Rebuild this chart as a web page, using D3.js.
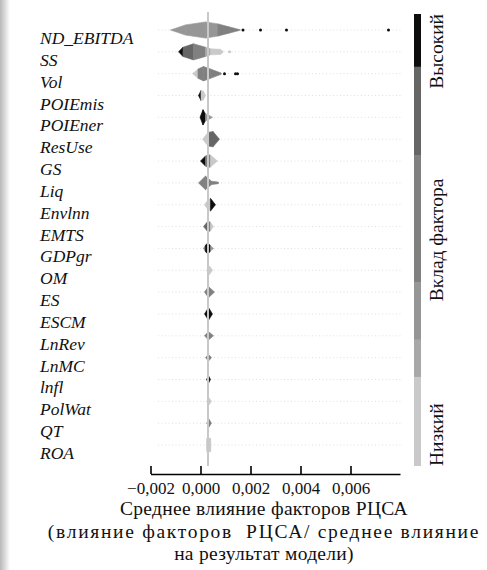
<!DOCTYPE html>
<html>
<head>
<meta charset="utf-8">
<script src="https://cdn.jsdelivr.net/npm/d3@7"></script>
<style>
  body { margin: 0; background: #fff; }
  text { font-family: "Liberation Serif", "DejaVu Serif", serif; }
</style>
</head>
<body>
<svg id="chart" width="487" height="570"></svg>
<script>
'use strict';

/**
 * Data
 */
const features = ['ND_EBITDA', 'SS', 'Vol', 'POIEmis', 'POIEner', 'ResUse', 'GS', 'Liq', 'Envlnn', 'EMTS',
  'GDPgr', 'OM', 'ES', 'ESCM', 'LnRev', 'LnMC', 'lnfl', 'PolWat', 'QT', 'ROA'];

// violin knots per feature: [shap value, relative density, feature value level 0..1]
// the level of a knot colours the slice to its right
const violins = [
  [[-0.0012, 0, .3], [-0.0006, .6, .3], [0.0002, .95, .3], [0.0007, .72, .5], [0.0011, .4, .5], [0.0015, .1, .5], [0.0016, 0, .5]],
  [[-0.00088, 0, 1], [-0.0007, .55, .8], [-0.00028, .95, .6], [0.0002, .55, .25], [0.0004, .35, .15], [0.0008, .3, .15], [0.00092, 0, .15]],
  [[-0.00032, 0, .1], [-0.0001, .55, .45], [0.00012, .85, .45], [0.0004, .55, .5], [0.0008, .1, .5], [0.00084, 0, .5]],
  [[-0.00008, 0, 1], [0.00002, .6, .15], [0.00012, .5, .15], [0.0002, 0, .15]],
  [[-0.00002, 0, 1], [0.0001, .9, 1], [0.0002, .4, .3], [0.0003, .3, .3], [0.00048, 0, .3]],
  [[0.00008, 0, .15], [0.0003, .8, .8], [0.0005, .9, .8], [0.00076, 0, .8]],
  [[0, 0, 1], [0.0002, .6, .55], [0.0003, .75, .55], [0.0004, .7, .15], [0.00068, 0, .15]],
  [[-0.00008, 0, .5], [0.0002, .8, .5], [0.00044, .2, .6], [0.0007, .1, .6], [0.00072, 0, .6]],
  [[0.00016, 0, .15], [0.0003, .6, .15], [0.0004, .75, 1], [0.0006, 0, 1]],
  [[0.00012, 0, .8], [0.0003, .65, .5], [0.0004, .5, .15], [0.00052, 0, .15]],
  [[0.00012, 0, .6], [0.0002, .4, 1], [0.0003, .65, 1], [0.0004, .3, .3], [0.00052, 0, .3]],
  [[0.00024, 0, .1], [0.00036, .5, .1], [0.00048, 0, .1]],
  [[0.00016, 0, .5], [0.00032, .65, .5], [0.00056, 0, .5]],
  [[0.00016, 0, .95], [0.00032, .75, .95], [0.00048, 0, .95]],
  [[0.00016, 0, .5], [0.00032, .5, .5], [0.00052, 0, .5]],
  [[0.0002, 0, .55], [0.00032, .4, .55], [0.00044, 0, .55]],
  [[0.00024, 0, 1], [0.00032, .45, 1], [0.0004, 0, 1]],
  [[0.00024, 0, .1], [0.00034, .4, .1], [0.00044, 0, .1]],
  [[0.00024, 0, .5], [0.00034, .45, .5], [0.00044, 0, .5]],
  [[0.00024, 0, .15], [0.00026, .8, .15], [0.0004, .8, .15], [0.00042, 0, .15]]
];

// single points outside the violins: [feature, shap value, level]
const outliers = [
  ['ND_EBITDA', 0.0017, 1], ['ND_EBITDA', 0.0024, 1], ['ND_EBITDA', 0.00344, 1], ['ND_EBITDA', 0.00752, 1],
  ['SS', 0.00116, .15],
  ['Vol', 0.00096, 1], ['Vol', 0.0014, 1], ['Vol', 0.00148, 1]
];

const xTicks = [-0.002, 0, 0.002, 0.004, 0.006];
const baseValue = 0.0003;

// step colour bar: upper bounds of each grey band (0 = low, 1 = high)
const levelBreaks = [0.197, 0.279, 0.407, 0.688, 0.883];
const levelGreys = ['#c9c9c9', '#a8a8a8', '#969696', '#808080', '#666666', '#0d0d0d'];

const xTitle = ['Среднее влияние факторов РЦСА', '(влияние факторов  РЦСА/ среднее влияние', 'на результат модели)'];

/**
 * Layout
 */
const MAX_HALF = 8.5;
const svg = d3.select('#chart');

const x = d3.scaleLinear().domain([-0.002, 0.00798]).range([150.5, 400]);
const y = d3.scalePoint().domain(features).range([30, 445]);
const grey = d3.scaleThreshold().domain(levelBreaks).range(levelGreys);
const locale = d3.formatLocale({decimal: ',', thousands: ' ', grouping: [3], currency: ['', ''], minus: '\u2212'});

// faded left edge of the scanned page
const grad = svg.append('defs').append('linearGradient').attr('id', 'edge');
grad.append('stop').attr('offset', '0%').attr('stop-color', '#b8b8b8');
grad.append('stop').attr('offset', '100%').attr('stop-color', '#ffffff');
svg.append('rect').attr('x', 0).attr('y', 0).attr('width', 10).attr('height', 570).attr('fill', 'url(#edge)');

// dotted row guides
svg.append('g').selectAll('line').data(features).join('line')
  .attr('x1', 158).attr('x2', 402)
  .attr('y1', d => y(d)).attr('y2', d => y(d))
  .attr('stroke', '#e0e0e0').attr('stroke-width', 1).attr('stroke-dasharray', '1,2.5');

// violins as coloured slices
const slices = [];
violins.forEach((knots, i) => {
  for(let k = 0; k < knots.length - 1; k++) {
    slices.push({feature: features[i], a: knots[k], b: knots[k + 1]});
  }
});

svg.append('g').selectAll('path').data(slices).join('path')
  .attr('d', s => {
    const cy = y(s.feature);
    const x0 = x(s.a[0]), x1 = x(s.b[0]);
    const h0 = s.a[1] * MAX_HALF, h1 = s.b[1] * MAX_HALF;
    return `M${x0},${cy - h0}L${x1},${cy - h1}L${x1},${cy + h1}L${x0},${cy + h0}Z`;
  })
  .attr('fill', s => grey(s.a[2]))
  .attr('stroke', s => grey(s.a[2]))
  .attr('stroke-width', 0.6)
  .attr('stroke-linejoin', 'round');

svg.append('g').selectAll('circle').data(outliers).join('circle')
  .attr('cx', d => x(d[1]))
  .attr('cy', d => y(d[0]))
  .attr('r', 1.5)
  .attr('fill', d => grey(d[2]));

// base line
svg.append('line')
  .attr('x1', x(baseValue)).attr('x2', x(baseValue))
  .attr('y1', 12).attr('y2', 466)
  .attr('stroke', '#c8c8c8').attr('stroke-width', 2);

// feature labels
svg.append('g').selectAll('text').data(features).join('text')
  .attr('x', 40)
  .attr('y', d => y(d) + 14)
  .attr('font-family', '"Liberation Serif", serif')
  .attr('font-size', 17.5)
  .attr('font-style', 'italic')
  .attr('fill', '#111')
  .text(d => d);

// x axis, ticks pointing up
const axis = svg.append('g')
  .attr('transform', 'translate(0,474)')
  .call(d3.axisBottom(x).tickValues(xTicks).tickFormat(locale.format('.3f'))
    .tickSize(-8).tickSizeOuter(0).tickPadding(8));
axis.attr('font-family', '"Liberation Serif", serif');
axis.select('.domain').attr('stroke', '#000').attr('stroke-width', 1.6);
axis.selectAll('.tick line').attr('stroke', '#000').attr('stroke-width', 1.6);
axis.selectAll('.tick text')
  .attr('font-size', 17)
  .attr('fill', '#111');

const titleSpacing = [0.3, 1.7, 0.3];
svg.append('g').selectAll('text').data(xTitle).join('text')
  .attr('x', 264)
  .attr('y', (d, i) => 515 + i * 22.5)
  .attr('text-anchor', 'middle')
  .attr('font-family', '"Liberation Serif", serif')
  .attr('font-size', 19.5)
  .attr('letter-spacing', (d, i) => titleSpacing[i])
  .attr('fill', '#111')
  .style('white-space', 'pre')
  .text(d => d);

// colour bar
const barY = d3.scaleLinear().domain([0, 1]).range([466, 14]);
const bands = levelGreys.map((c, i) => ({
  lo: i === 0 ? 0 : levelBreaks[i - 1],
  hi: i === levelBreaks.length ? 1 : levelBreaks[i],
  color: c
}));
svg.append('g').selectAll('rect').data(bands).join('rect')
  .attr('x', 414).attr('width', 7)
  .attr('y', d => barY(d.hi))
  .attr('height', d => barY(d.lo) - barY(d.hi))
  .attr('fill', d => d.color);

const barLabels = [
  {text: 'Высокий', pos: 1, anchor: 'end'},
  {text: 'Вклад фактора', pos: 0.5, anchor: 'middle'},
  {text: 'Низкий', pos: 0, anchor: 'start'}
];
svg.append('g').selectAll('text').data(barLabels).join('text')
  .attr('transform', d => `translate(443,${barY(d.pos)}) rotate(-90)`)
  .attr('text-anchor', d => d.anchor)
  .attr('font-family', '"Liberation Serif", serif')
  .attr('font-size', 19.5)
  .attr('fill', '#111')
  .text(d => d.text);
</script>
</body>
</html>
